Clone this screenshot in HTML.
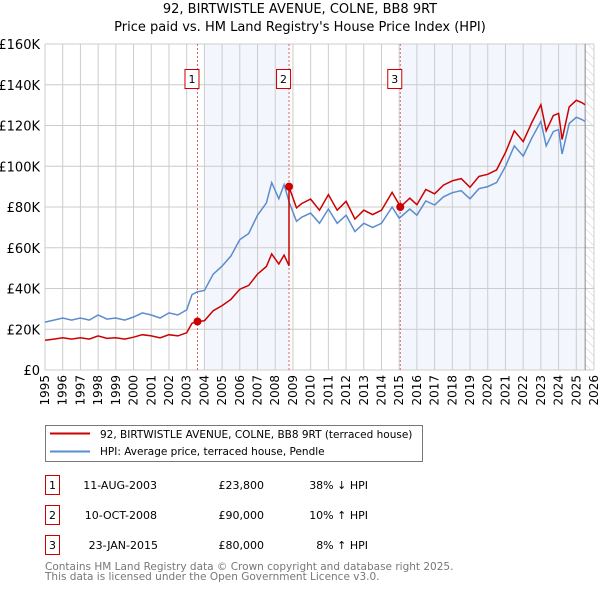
<!DOCTYPE html>
<html><head><meta charset="utf-8"><style>
body{margin:0;background:#fff;font-family:"Liberation Sans","DejaVu Sans",sans-serif;}
svg text{font-family:"DejaVu Sans","Liberation Sans",sans-serif;}
</style></head><body>
<svg id="c" width="600" height="590" xmlns="http://www.w3.org/2000/svg">
<defs><pattern id="hatch" width="6" height="6" patternUnits="userSpaceOnUse" patternTransform="rotate(-45)"><line x1="0" y1="0" x2="0" y2="6" stroke="#ccc" stroke-width="1"/></pattern></defs>
<text x="300" y="13" text-anchor="middle" font-size="13">92, BIRTWISTLE AVENUE, COLNE, BB8 9RT</text>
<text x="300" y="31" text-anchor="middle" font-size="13">Price paid vs. HM Land Registry's House Price Index (HPI)</text>
<g id="plot"></g>
<g>
<rect x="45.5" y="425.5" width="377" height="36" fill="#fff" stroke="#777"/>
<line x1="50" y1="433.5" x2="90" y2="433.5" stroke="#cc0000" stroke-width="2"/>
<text x="100" y="438" font-size="10.5">92, BIRTWISTLE AVENUE, COLNE, BB8 9RT (terraced house)</text>
<line x1="50" y1="451.5" x2="90" y2="451.5" stroke="#5b8ccc" stroke-width="2"/>
<text x="100" y="455" font-size="10.5">HPI: Average price, terraced house, Pendle</text>
</g>
<g font-size="11">
<rect x="45.5" y="475.5" width="14" height="19" fill="#fff" stroke="#cc0000"/><text x="52.5" y="489" text-anchor="middle">1</text>
<text x="157" y="489" text-anchor="end">11-AUG-2003</text><text x="264" y="489" text-anchor="end">£23,800</text><text x="368" y="489" text-anchor="end">38% ↓ HPI</text>
<rect x="45.5" y="505.5" width="14" height="19" fill="#fff" stroke="#cc0000"/><text x="52.5" y="519" text-anchor="middle">2</text>
<text x="157" y="519" text-anchor="end">10-OCT-2008</text><text x="264" y="519" text-anchor="end">£90,000</text><text x="368" y="519" text-anchor="end">10% ↑ HPI</text>
<rect x="45.5" y="535.5" width="14" height="19" fill="#fff" stroke="#cc0000"/><text x="52.5" y="549" text-anchor="middle">3</text>
<text x="158" y="549" text-anchor="end">23-JAN-2015</text><text x="264" y="549" text-anchor="end">£80,000</text><text x="368" y="549" text-anchor="end">8% ↑ HPI</text>
</g>
<text x="45" y="570" font-size="10.5" fill="#777">Contains HM Land Registry data © Crown copyright and database right 2025.</text>
<text x="45" y="580" font-size="10.5" fill="#777">This data is licensed under the Open Government Licence v3.0.</text>
</svg>
<script>
const hpiYears=[1995,1995.5,1996,1996.5,1997,1997.5,1998,1998.5,1999,1999.5,2000,2000.5,2001,2001.5,2002,2002.5,2003,2003.3,2003.6,2004,2004.5,2005,2005.5,2006,2006.5,2007,2007.5,2007.8,2008.2,2008.5,2008.8,2009.2,2009.5,2010,2010.5,2011,2011.5,2012,2012.5,2013,2013.5,2014,2014.6,2015,2015.6,2016,2016.5,2017,2017.5,2018,2018.5,2019,2019.5,2020,2020.5,2021,2021.5,2022,2022.5,2023,2023.3,2023.7,2024,2024.2,2024.6,2025,2025.3,2025.5];
const hpiValues=[23.5,24.5,25.5,24.5,25.5,24.5,27,25,25.5,24.5,26,28,27,25.5,28,27,29.5,37,38.4,39,47,51,56,64,67,76,82,92,84,91,82,73,75,77,72,79,72,76,68,72,70,72,80,74.5,79,76,83,81,85,87,88,84,89,90,92,100,110,105,114,122,110,117,118,106,121,124,123,122];
const saleYears=[2003.61,2008.78,2015.06];
const salePrices=[23.8,90,80];
const saleLabels=["1","2","3"];
const yTicks=[0,20,40,60,80,100,120,140,160];
const yTickLabels=["£0","£20K","£40K","£60K","£80K","£100K","£120K","£140K","£160K"];
const xTicks=[];for(let y=1995;y<=2026;y++)xTicks.push(y);

const L=45,R=594,T=44,B=370;
const X=y=>L+(y-1995)/(2026-1995)*(R-L);
const Y=v=>B-v/160*(B-T);
const NS="http://www.w3.org/2000/svg";
const g=document.getElementById('plot');
function mk(t,a){const e=document.createElementNS(NS,t);for(const k in a)e.setAttribute(k,a[k]);g.appendChild(e);return e;}
function hpiAt(t){for(let i=0;i<hpiYears.length-1;i++){if(t>=hpiYears[i]&&t<=hpiYears[i+1]){const f=(t-hpiYears[i])/(hpiYears[i+1]-hpiYears[i]);return hpiValues[i]+f*(hpiValues[i+1]-hpiValues[i]);}}return hpiValues[hpiValues.length-1];}

let e;
e=mk('rect',{x:X(2004),y:T,width:X(saleYears[1])-X(2004),height:B-T,fill:'#eef3fc',opacity:0.7});


e=mk('rect',{x:X(saleYears[2]),y:T,width:X(2025.5)-X(saleYears[2]),height:B-T,fill:'#eef3fc',opacity:0.7});


e=mk('rect',{x:X(2025.5),y:T,width:R-X(2025.5),height:B-T,fill:'url(#hatch)'});


xTicks.forEach(y=>{
 e=mk('line',{x1:X(y),x2:X(y),y1:T,y2:B,stroke:'#ccc','stroke-width':1});
 
 
 e=mk('text',{x:0,y:0,transform:`translate(${X(y)+4},375) rotate(-90)`,'text-anchor':'end','font-size':12});
 e.textContent=y;
 
 
});
yTicks.forEach((v,i)=>{
 e=mk('line',{x1:L,x2:R,y1:Y(v),y2:Y(v),stroke:'#ccc','stroke-width':1});
 
 
 e=mk('text',{x:40,y:Y(v)+5,'text-anchor':'end','font-size':13});
 e.textContent=yTickLabels[i];
 
 
});
e=mk('line',{x1:X(2025.5),x2:X(2025.5),y1:T,y2:B,stroke:'#888','stroke-width':1});


saleYears.forEach((s,i)=>{
 e=mk('line',{x1:X(s),x2:X(s),y1:T,y2:B,stroke:'#e06060','stroke-width':1,'stroke-dasharray':'2,2'});
 
 
});
let d=hpiYears.map((y,i)=>(i?'L':'M')+X(y).toFixed(1)+','+Y(hpiValues[i]).toFixed(1)).join('');
e=mk('path',{d:d,fill:'none',stroke:'#5b8ccc','stroke-width':1.5});


const ratios=saleYears.map((s,i)=>salePrices[i]/hpiAt(s));
const pts=[];
hpiYears.forEach((y,i)=>{
 let k=0;for(let j=0;j<saleYears.length;j++)if(y>=saleYears[j])k=j;
 pts.push([y,hpiValues[i]*ratios[k]]);
});
saleYears.forEach((s,j)=>{if(j>0)pts.push([s-0.001,hpiAt(s)*ratios[j-1]]);pts.push([s,salePrices[j]]);});
pts.sort((a,b)=>a[0]-b[0]);
d=pts.map((p,i)=>(i?'L':'M')+X(p[0]).toFixed(1)+','+Y(p[1]).toFixed(1)).join('');
e=mk('path',{d:d,fill:'none',stroke:'#cc0000','stroke-width':1.5});


saleYears.forEach((s,i)=>{
 e=mk('circle',{cx:X(s),cy:Y(salePrices[i]),r:4,fill:'#cc0000'});
 
 
 e=mk('rect',{x:X(s)-12.5,y:69.5,width:14,height:19,fill:'#fff',stroke:'#cc0000'});
 
 
 e=mk('text',{x:X(s)-5.5,y:83,'text-anchor':'middle','font-size':11});
 e.textContent=saleLabels[i];
 
 
});
</script>
</body></html>
